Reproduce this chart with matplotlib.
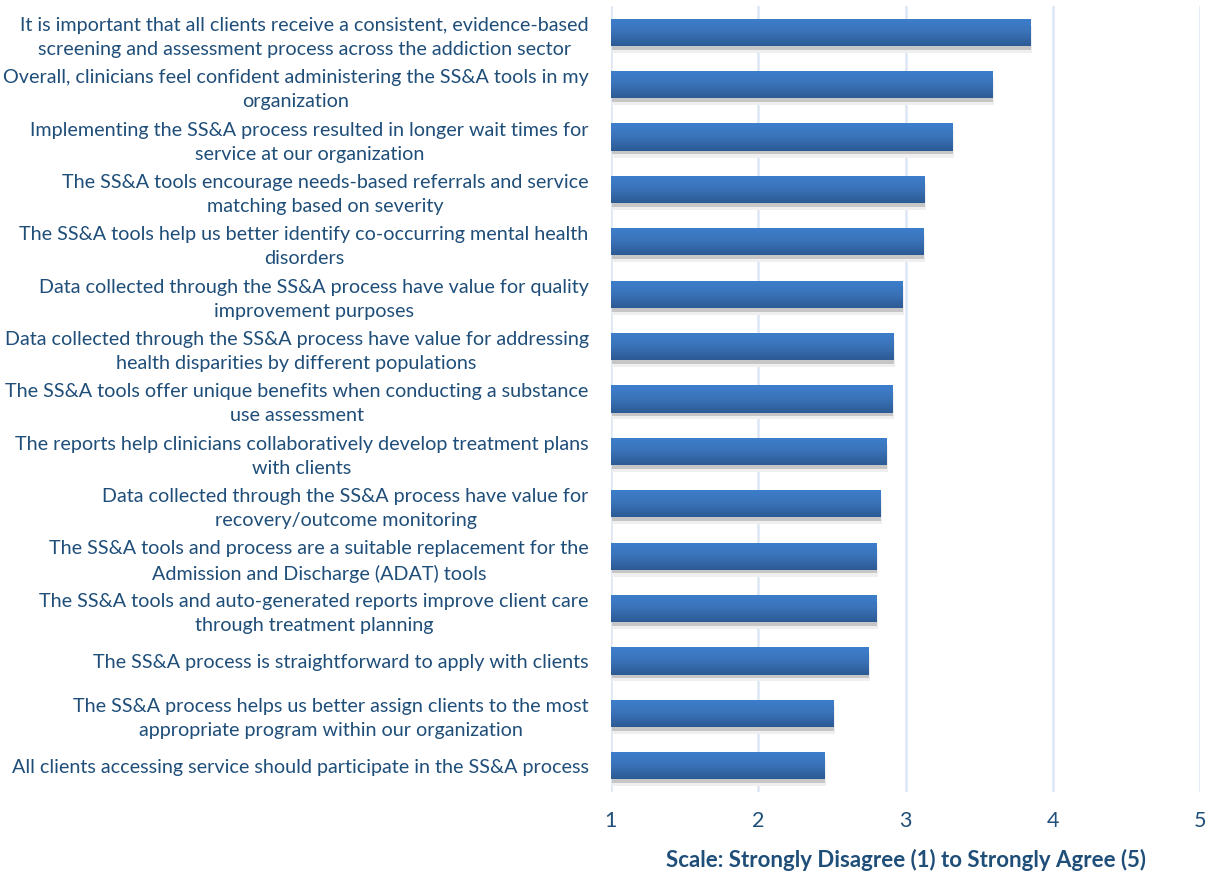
import numpy as np
import matplotlib
matplotlib.use("Agg")
import matplotlib.pyplot as plt

# Données (de haut en bas)
labels = [
    "It is important that all clients receive a consistent, evidence-based\nscreening and assessment process across the addiction sector",
    "Overall, clinicians feel confident administering the SS&A tools in my\norganization",
    "Implementing the SS&A process resulted in longer wait times for\nservice at our organization",
    "The SS&A tools encourage needs-based referrals and service\nmatching based on severity",
    "The SS&A tools help us better identify co-occurring mental health\ndisorders",
    "Data collected through the SS&A process have value for quality\nimprovement purposes",
    "Data collected through the SS&A process have value for addressing\nhealth disparities by different populations",
    "The SS&A tools offer unique benefits when conducting a substance\nuse assessment",
    "The reports help clinicians collaboratively develop treatment plans\nwith clients",
    "Data collected through the SS&A process have value for\nrecovery/outcome monitoring",
    "The SS&A tools and process are a suitable replacement for the\nAdmission and Discharge (ADAT) tools",
    "The SS&A tools and auto-generated reports improve client care\nthrough treatment planning",
    "The SS&A process is straightforward to apply with clients",
    "The SS&A process helps us better assign clients to the most\nappropriate program within our organization",
    "All clients accessing service should participate in the SS&A process",
]
scores = [3.85, 3.59, 3.32, 3.13, 3.12, 2.98, 2.92, 2.91, 2.87, 2.83, 2.80, 2.80, 2.75, 2.51, 2.45]
x_ticks = [1, 2, 3, 4, 5]

text_color = "#1f4e79"
plt.rcParams['font.family'] = ['Lato', 'DejaVu Sans']

fig = plt.figure(figsize=(12.11, 8.75), dpi=100)
ax = fig.add_axes([0.5045, 0.095, 0.4865, 0.898])

y = np.arange(len(labels))
h = 0.52
base = 1

# Ombres
ax.barh(y + 0.13, np.array(scores) - base, left=base + 0.01, height=h, color="#efefef", zorder=2)
ax.barh(y + 0.07, np.array(scores) - base, left=base + 0.005, height=h, color="#c6c6c6", zorder=2)

# Barres avec dégradé
bars = ax.barh(y, np.array(scores) - base, left=base, height=h, color="none", zorder=3)
grad = np.linspace(0, 1, 100).reshape(-1, 1)
cmap = matplotlib.colors.LinearSegmentedColormap.from_list("b", ["#3d7fcc", "#3a72b8", "#2c5a94"])
for b in bars:
    x0, y0 = b.get_x(), b.get_y()
    im = ax.imshow(grad, cmap=cmap, aspect="auto", zorder=3,
                   extent=[x0, x0 + b.get_width(), y0 + b.get_height(), y0])
    im.set_clip_path(b)

ax.set_xlim(1, 5)
ax.set_ylim(len(labels) - 0.5, -0.5)
ax.set_xticks(x_ticks)
ax.set_xticklabels([str(t) for t in x_ticks], fontsize=15.5, color=text_color)
ax.set_yticks(y)
ax.set_yticklabels(labels, fontsize=14.2, color=text_color, ha="right",
                   multialignment="center", linespacing=1.5)
ax.tick_params(axis="y", length=0, pad=16)
ax.tick_params(axis="x", length=0, pad=14)

ax.grid(axis="x", color="#dde7f3", linewidth=1.8, zorder=0)
ax.set_axisbelow(True)
for s in ax.spines.values():
    s.set_visible(False)

ax.set_xlabel("Scale: Strongly Disagree (1) to Strongly Agree (5)", fontsize=16,
              fontweight="bold", color=text_color, labelpad=13)

fig.savefig("out.png", dpi=100)
